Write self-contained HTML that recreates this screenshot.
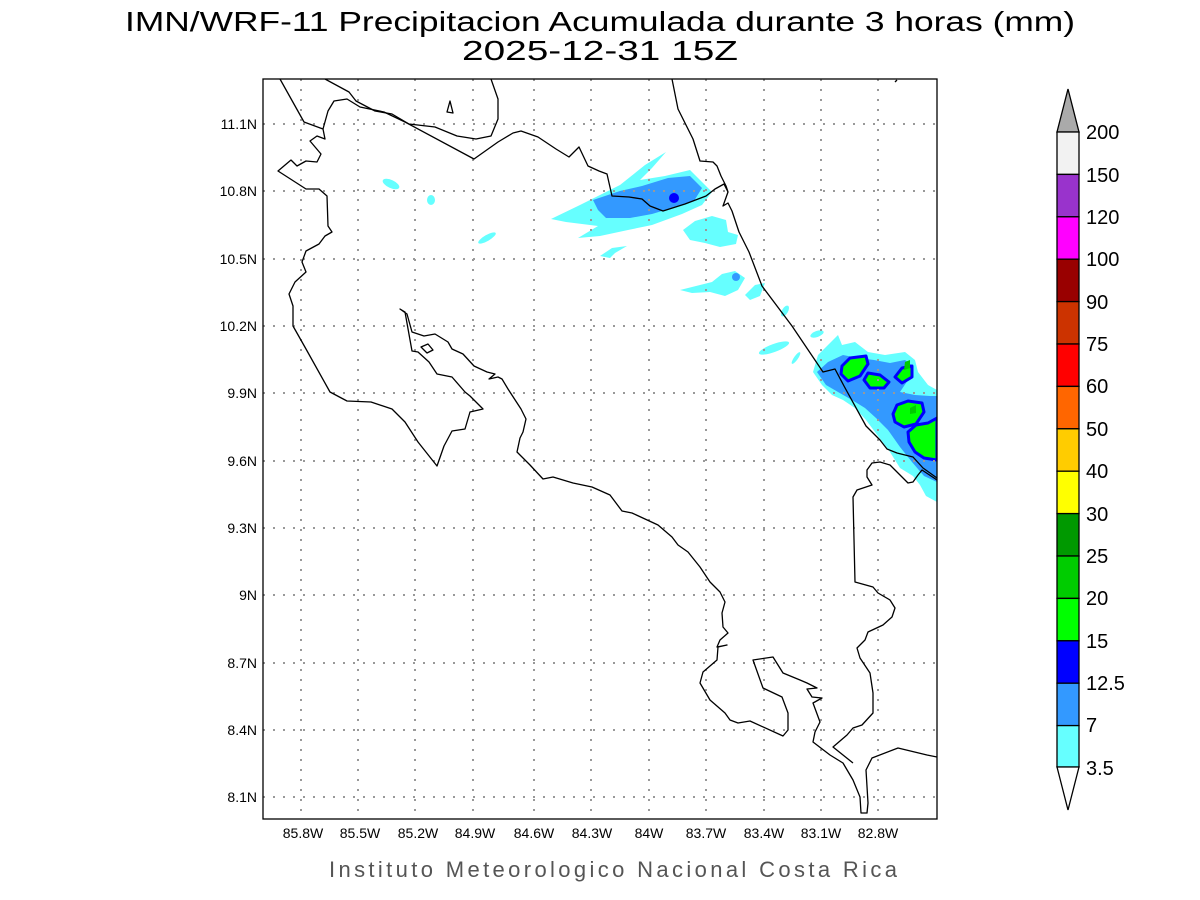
<!DOCTYPE html>
<html><head><meta charset="utf-8"><style>
html,body{margin:0;padding:0;background:#fff;}
svg{display:block;}
text{font-family:"Liberation Sans",sans-serif;}
</style></head><body>
<svg width="1200" height="900" viewBox="0 0 1200 900" xmlns="http://www.w3.org/2000/svg">
<rect width="1200" height="900" fill="#fff"/>
<text x="600" y="31" font-size="28" text-anchor="middle" fill="#000" textLength="950" lengthAdjust="spacingAndGlyphs">IMN/WRF-11 Precipitacion Acumulada durante 3 horas (mm)</text>
<text x="600" y="60" font-size="28" text-anchor="middle" fill="#000" textLength="276" lengthAdjust="spacingAndGlyphs">2025-12-31 15Z</text>

<clipPath id="c"><rect x="263" y="79" width="674" height="740"/></clipPath>
<g clip-path="url(#c)">
<!-- precip -->
<g stroke="none">
<polygon fill="#66ffff" points="551,219 580,205 620,185 645,165 666,152 652,168 640,180 665,176 690,170 700,180 712,192 702,205 682,214 652,225 628,230 600,236 578,238 598,226 566,222"/>
<polygon fill="#3399ff" points="593,200 620,191 642,186 668,178 690,176 702,188 694,201 672,208 652,214 630,218 606,218 598,210"/>
<circle cx="674" cy="198" r="5" fill="#0000ff"/>
<polygon fill="#66ffff" points="683,230 695,221 712,216 726,220 728,232 738,235 736,244 720,247 705,243 690,240"/>
<ellipse cx="391" cy="184" rx="9" ry="4" fill="#66ffff" transform="rotate(25 391 184)"/>
<ellipse cx="431" cy="200" rx="4" ry="5" fill="#66ffff"/>
<ellipse cx="487" cy="238" rx="10" ry="3" fill="#66ffff" transform="rotate(-30 487 238)"/>
<polygon fill="#66ffff" points="600,256 612,248 627,246 615,253 610,258"/>
<polygon fill="#66ffff" points="680,290 700,285 712,282 722,274 735,271 745,278 738,290 725,296 710,292 692,293"/>
<circle cx="736" cy="277" r="4" fill="#3399ff"/>
<polygon fill="#66ffff" points="745,295 755,285 765,283 760,296 750,300"/>
<ellipse cx="785" cy="311" rx="3" ry="6" fill="#66ffff" transform="rotate(30 785 311)"/>
<ellipse cx="774" cy="348" rx="16" ry="4" fill="#66ffff" transform="rotate(-20 774 348)"/>
<ellipse cx="796" cy="358" rx="2" ry="7" fill="#66ffff" transform="rotate(35 796 358)"/>
<ellipse cx="817" cy="334" rx="7" ry="3" fill="#66ffff" transform="rotate(-20 817 334)"/>
<polygon fill="#66ffff" points="813,372 818,355 828,345 838,335 842,345 855,342 868,352 885,355 905,352 915,360 918,372 928,385 937,390 937,502 926,496 920,485 913,476 900,468 890,452 878,436 866,420 855,408 843,400 832,395 822,385"/>
<polygon fill="#3399ff" points="817,372 828,362 843,355 858,358 874,360 890,363 905,360 913,366 908,380 900,392 915,395 930,396 937,396 937,482 924,476 912,462 900,447 888,430 876,418 865,408 852,400 838,392 826,385"/>
<g stroke="#0000ff" stroke-width="3" stroke-linejoin="round">
<polygon fill="#00ff00" points="842,366 850,358 866,356 868,364 860,376 848,381 841,374"/>
<polygon fill="#00ff00" points="864,380 868,373 880,375 889,382 884,388 870,388"/>
<polygon fill="#00ff00" points="895,377 902,368 912,366 912,377 902,383"/>
<polygon fill="#00ff00" points="893,414 897,405 908,401 922,403 924,412 916,424 904,427 895,422"/>
<polygon fill="#00ff00" points="908,432 916,425 928,423 937,418 937,460 924,458 915,452 909,442"/>
</g>
<polygon fill="#00cc00" points="905,362 910,360 910,368 904,370"/>
<polygon fill="#00cc00" points="910,408 916,405 916,413 910,414"/>
</g>

<!-- grid -->
<g stroke="#999" stroke-width="2" stroke-dasharray="2,8">
<line x1="301" y1="79" x2="301" y2="819"/><line x1="358" y1="79" x2="358" y2="819"/>
<line x1="415" y1="79" x2="415" y2="819"/><line x1="473" y1="79" x2="473" y2="819"/>
<line x1="534" y1="79" x2="534" y2="819"/><line x1="591" y1="79" x2="591" y2="819"/>
<line x1="649" y1="79" x2="649" y2="819"/><line x1="706" y1="79" x2="706" y2="819"/>
<line x1="764" y1="79" x2="764" y2="819"/><line x1="821" y1="79" x2="821" y2="819"/>
<line x1="878" y1="79" x2="878" y2="819"/>
<line x1="263" y1="124" x2="937" y2="124"/><line x1="263" y1="191" x2="937" y2="191"/>
<line x1="263" y1="259" x2="937" y2="259"/><line x1="263" y1="326" x2="937" y2="326"/>
<line x1="263" y1="393" x2="937" y2="393"/><line x1="263" y1="461" x2="937" y2="461"/>
<line x1="263" y1="528" x2="937" y2="528"/><line x1="263" y1="595" x2="937" y2="595"/>
<line x1="263" y1="663" x2="937" y2="663"/><line x1="263" y1="730" x2="937" y2="730"/>
<line x1="263" y1="797" x2="937" y2="797"/>
</g>

<!-- coast -->
<g fill="none" stroke="#000" stroke-width="1.3" stroke-linejoin="round">
<polyline points="280,79 304,122 323,129 325,139 317,136 310,141 321,154 317,162 306,161 297,166 291,160 278,171 306,189 319,189 327,196 328,226 332,232 325,236 319,244 306,251 302,262 306,272 295,282 289,294 293,306 293,326 306,349 330,392 347,401 371,402 392,409 405,422 418,442 437,466 444,446 452,431 465,429 470,412 483,409 470,396 465,392 452,377 437,374 429,362 418,352 412,351 405,312 400,309 407,314 412,332 424,336 435,334 448,342 452,349 463,354 474,366 487,372 495,374 489,379 498,377 502,379 508,389 521,409 526,419 523,432 520,438 517,452 530,465 543,479 553,477 573,483 592,487 610,495 622,511 632,513 658,525 672,537 678,545 688,552 700,567 710,582 720,592 725,602 722,613 723,627 728,633 720,640 717,647 727,645 718,647 717,660 703,672 700,683 710,700 725,713 730,720 738,723 750,721 783,736 788,730 788,713 782,697 763,688 753,660 773,657 783,673 800,680 807,683 817,688 807,689 812,697 822,698 813,703 820,722 815,732 813,742 830,755 843,763 853,780 860,797 861,813 867,813 868,803 866,770 872,758 898,748 927,755 937,757"/>
<polyline points="323,129 328,111 334,101 347,99 360,107 384,112 405,122 474,159 498,142 513,133 521,131 538,137 556,149 569,157 579,147 588,166 599,171 607,174 612,196 629,197 642,199 650,206 663,211 685,204 706,196 715,189 724,184 728,192 726,186 721,176 717,166 713,162 700,161 693,139 678,109 672,79"/>
<polyline points="728,192 723,206 728,203 732,211 739,232 749,252 762,286 792,326 823,372 835,369 844,386 866,426 880,440 887,449 897,453 913,457 923,468 937,478"/>
<polyline points="853,763 833,747 847,735 853,728 862,725 873,713 873,693 870,673 860,658 857,648 865,640 868,632 883,625 892,617 895,608 890,600 878,593 873,587 855,582 853,497 857,490 872,485 867,477 867,470 872,463 880,462 890,465 897,472 908,483 913,482 918,475 922,470 937,480"/>
<polyline points="325,79 349,92 356,101 375,111 392,114 409,124 435,127 457,136 476,139 491,136 498,119 498,99 491,79"/>
<polygon points="447,112 453,113 450,101"/>
<polygon points="421,347 428,344 433,350 427,353"/>
<line x1="895" y1="82" x2="897" y2="80"/>
</g>
</g>
<rect x="263" y="79" width="674" height="740" fill="none" stroke="#000" stroke-width="1.3"/>

<!-- tick labels -->
<g font-size="14" fill="#000" text-anchor="end">
<text x="257" y="129">11.1N</text><text x="257" y="196">10.8N</text>
<text x="257" y="264">10.5N</text><text x="257" y="331">10.2N</text>
<text x="257" y="398">9.9N</text><text x="257" y="466">9.6N</text>
<text x="257" y="533">9.3N</text><text x="257" y="600">9N</text>
<text x="257" y="668">8.7N</text><text x="257" y="735">8.4N</text>
<text x="257" y="802">8.1N</text>
</g>
<g font-size="14" fill="#000" text-anchor="middle">
<text x="303" y="838">85.8W</text><text x="360" y="838">85.5W</text>
<text x="418" y="838">85.2W</text><text x="475" y="838">84.9W</text>
<text x="534" y="838">84.6W</text><text x="592" y="838">84.3W</text>
<text x="649" y="838">84W</text><text x="706" y="838">83.7W</text>
<text x="764" y="838">83.4W</text><text x="821" y="838">83.1W</text>
<text x="878" y="838">82.8W</text>
</g>
<text x="613" y="877" font-size="22" fill="#555" text-anchor="middle" textLength="568" lengthAdjust="spacing">Instituto Meteorologico Nacional Costa Rica</text>

<!-- colorbar -->
<g stroke="#000" stroke-width="1.3">
<polygon points="1057,132 1068,89 1079,132" fill="#aaaaaa"/>
<rect x="1057" y="132" width="22" height="42.4" fill="#f2f2f2"/>
<rect x="1057" y="174.4" width="22" height="42.4" fill="#9933cc"/>
<rect x="1057" y="216.8" width="22" height="42.4" fill="#ff00ff"/>
<rect x="1057" y="259.2" width="22" height="42.4" fill="#990000"/>
<rect x="1057" y="301.6" width="22" height="42.4" fill="#cc3300"/>
<rect x="1057" y="344" width="22" height="42.4" fill="#ff0000"/>
<rect x="1057" y="386.4" width="22" height="42.4" fill="#ff6600"/>
<rect x="1057" y="428.8" width="22" height="42.4" fill="#ffcc00"/>
<rect x="1057" y="471.2" width="22" height="42.4" fill="#ffff00"/>
<rect x="1057" y="513.6" width="22" height="42.4" fill="#009900"/>
<rect x="1057" y="556" width="22" height="42.4" fill="#00cc00"/>
<rect x="1057" y="598.4" width="22" height="42.4" fill="#00ff00"/>
<rect x="1057" y="640.8" width="22" height="42.4" fill="#0000ff"/>
<rect x="1057" y="683.2" width="22" height="42.4" fill="#3399ff"/>
<rect x="1057" y="725.6" width="22" height="41.4" fill="#66ffff"/>
<polygon points="1057,767 1068,810 1079,767" fill="#fff"/>
</g>
<g font-size="20" fill="#000">
<text x="1086" y="139">200</text><text x="1086" y="182">150</text>
<text x="1086" y="224">120</text><text x="1086" y="266">100</text>
<text x="1086" y="309">90</text><text x="1086" y="351">75</text>
<text x="1086" y="393">60</text><text x="1086" y="436">50</text>
<text x="1086" y="478">40</text><text x="1086" y="521">30</text>
<text x="1086" y="563">25</text><text x="1086" y="605">20</text>
<text x="1086" y="648">15</text><text x="1086" y="690">12.5</text>
<text x="1086" y="732">7</text><text x="1086" y="775">3.5</text>
</g>
</svg>
</body></html>
